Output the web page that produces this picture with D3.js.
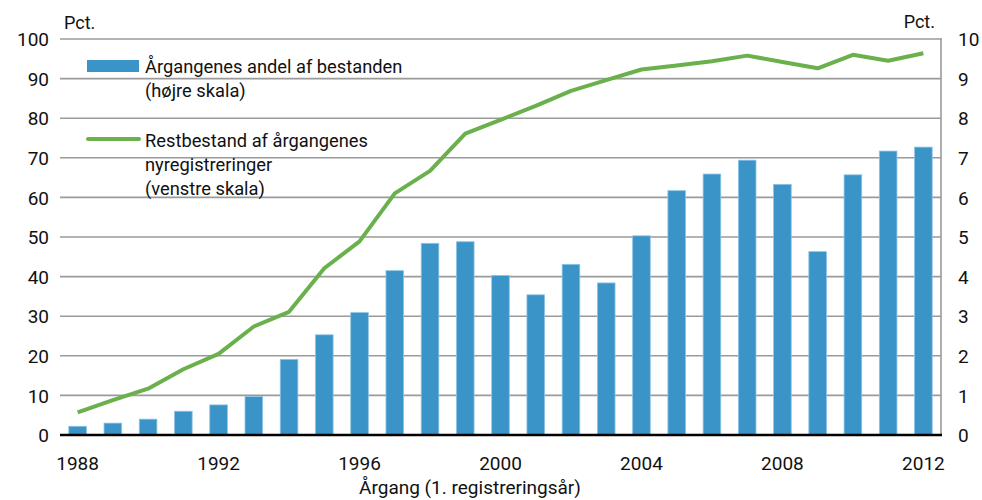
<!DOCTYPE html>
<html><head><meta charset="utf-8">
<script src="https://cdn.jsdelivr.net/npm/d3@7/dist/d3.min.js"></script>
<style>
body{margin:0;background:#fff;}
text{font-family:"Roboto","Open Sans",sans-serif;fill:#111;}
</style></head><body>
<svg id="c" width="982" height="500"></svg>
<script>
const years = d3.range(1988, 2013);
const shareValues = [0.22,0.30,0.40,0.60,0.76,0.97,1.91,2.53,3.09,4.15,4.84,4.88,4.03,3.54,4.31,3.84,5.03,6.17,6.59,6.94,6.33,4.63,6.57,7.17,7.27];
const restValues = [5.7,8.8,11.7,16.6,20.5,27.4,31.1,42.1,48.9,61.0,66.7,76.1,79.6,83.1,86.9,89.6,92.3,93.3,94.4,95.8,94.2,92.6,96.0,94.5,96.4];
const leftTicks = [0,10,20,30,40,50,60,70,80,90,100];
const rightTicks = [0,1,2,3,4,5,6,7,8,9,10];
const xTickYears = [1988,1992,1996,2000,2004,2008,2012];
const legendLabels = [["Årgangenes andel af bestanden","(højre skala)"],["Restbestand af årgangenes","nyregistreringer","(venstre skala)"]];
const xTitle = "Årgang (1. registreringsår)";
const unitLabel = "Pct.";

const svg = d3.select("#c");
const L = 60, R = 941, T = 39, B = 435;
const x = d3.scaleBand().domain(years).range([L, R]).paddingInner(0.5).paddingOuter(0.25);
const yL = d3.scaleLinear().domain([0,100]).range([B,T]);
const yR = d3.scaleLinear().domain([0,10]).range([B,T]);
const blue = "#3a94c8", green = "#6ab04c";

// gridlines
svg.append("g").selectAll("line").data(leftTicks.filter(d=>d>0)).join("line")
  .attr("x1", L).attr("x2", R).attr("y1", d=>yL(d)).attr("y2", d=>yL(d))
  .attr("stroke", "#9a9a9a").attr("stroke-width", 1.6);
// right axis line
svg.append("line").attr("x1", R).attr("x2", R).attr("y1", T-1).attr("y2", B)
  .attr("stroke", "#9a9a9a").attr("stroke-width", 1.6);

// bars
svg.append("g").selectAll("rect").data(years).join("rect")
  .attr("x", d=>x(d)).attr("width", x.bandwidth())
  .attr("y", (d,i)=>yR(shareValues[i])).attr("height", (d,i)=>B - yR(shareValues[i]))
  .attr("fill", blue).attr("stroke", "#8cc4e6").attr("stroke-width", 0.8);

// zero line
svg.append("line").attr("x1", L).attr("x2", R+1).attr("y1", B).attr("y2", B)
  .attr("stroke", "#000").attr("stroke-width", 2.5);

// line
const line = d3.line().x((d,i)=>x(years[i]) + x.bandwidth()/2).y(d=>yL(d));
svg.append("path").datum(restValues).attr("d", line)
  .attr("fill","none").attr("stroke", green).attr("stroke-width", 4).attr("stroke-linejoin","round");

// left axis
const gl = svg.append("g").attr("transform", `translate(${L},0)`)
  .call(d3.axisLeft(yL).tickValues(leftTicks).tickSize(0).tickPadding(11));
gl.select(".domain").remove();
gl.selectAll("text").attr("font-size", 19).attr("dy","0.35em");

// right axis
const gr = svg.append("g").attr("transform", `translate(${R},0)`)
  .call(d3.axisRight(yR).tickValues(rightTicks).tickSize(0).tickPadding(17));
gr.select(".domain").remove();
gr.selectAll("text").attr("font-size", 19).attr("dy","0.35em");

// x axis
const gx = svg.append("g").attr("transform", `translate(0,${B})`)
  .call(d3.axisBottom(x).tickValues(xTickYears).tickSize(0).tickPadding(22));
gx.select(".domain").remove();
gx.selectAll("text").attr("font-size", 19);
svg.selectAll(".tick text").attr("fill","#111").style("font-family", '"Roboto",sans-serif');

// unit labels
svg.append("text").attr("x", 64).attr("y", 29).attr("font-size", 18).text(unitLabel);
svg.append("text").attr("x", 935).attr("y", 28).attr("font-size", 18).attr("text-anchor","end").text(unitLabel);

// x title
svg.append("text").attr("x", 470).attr("y", 494).attr("font-size", 19).attr("text-anchor","middle").text(xTitle);

// legend
svg.append("rect").attr("x", 87).attr("y", 60).attr("width", 52).attr("height", 12).attr("fill", blue);
svg.append("line").attr("x1", 88).attr("x2", 139).attr("y1", 139).attr("y2", 139)
  .attr("stroke", green).attr("stroke-width", 4).attr("stroke-linecap","round");
const lt0 = svg.append("text").attr("font-size", 18.3);
legendLabels[0].forEach((s,i)=>lt0.append("tspan").attr("x",145).attr("y",73+i*24).text(s));
const lt1 = svg.append("text").attr("font-size", 18.3);
legendLabels[1].forEach((s,i)=>lt1.append("tspan").attr("x",145).attr("y",147+i*24).text(s));
</script>
</body></html>
